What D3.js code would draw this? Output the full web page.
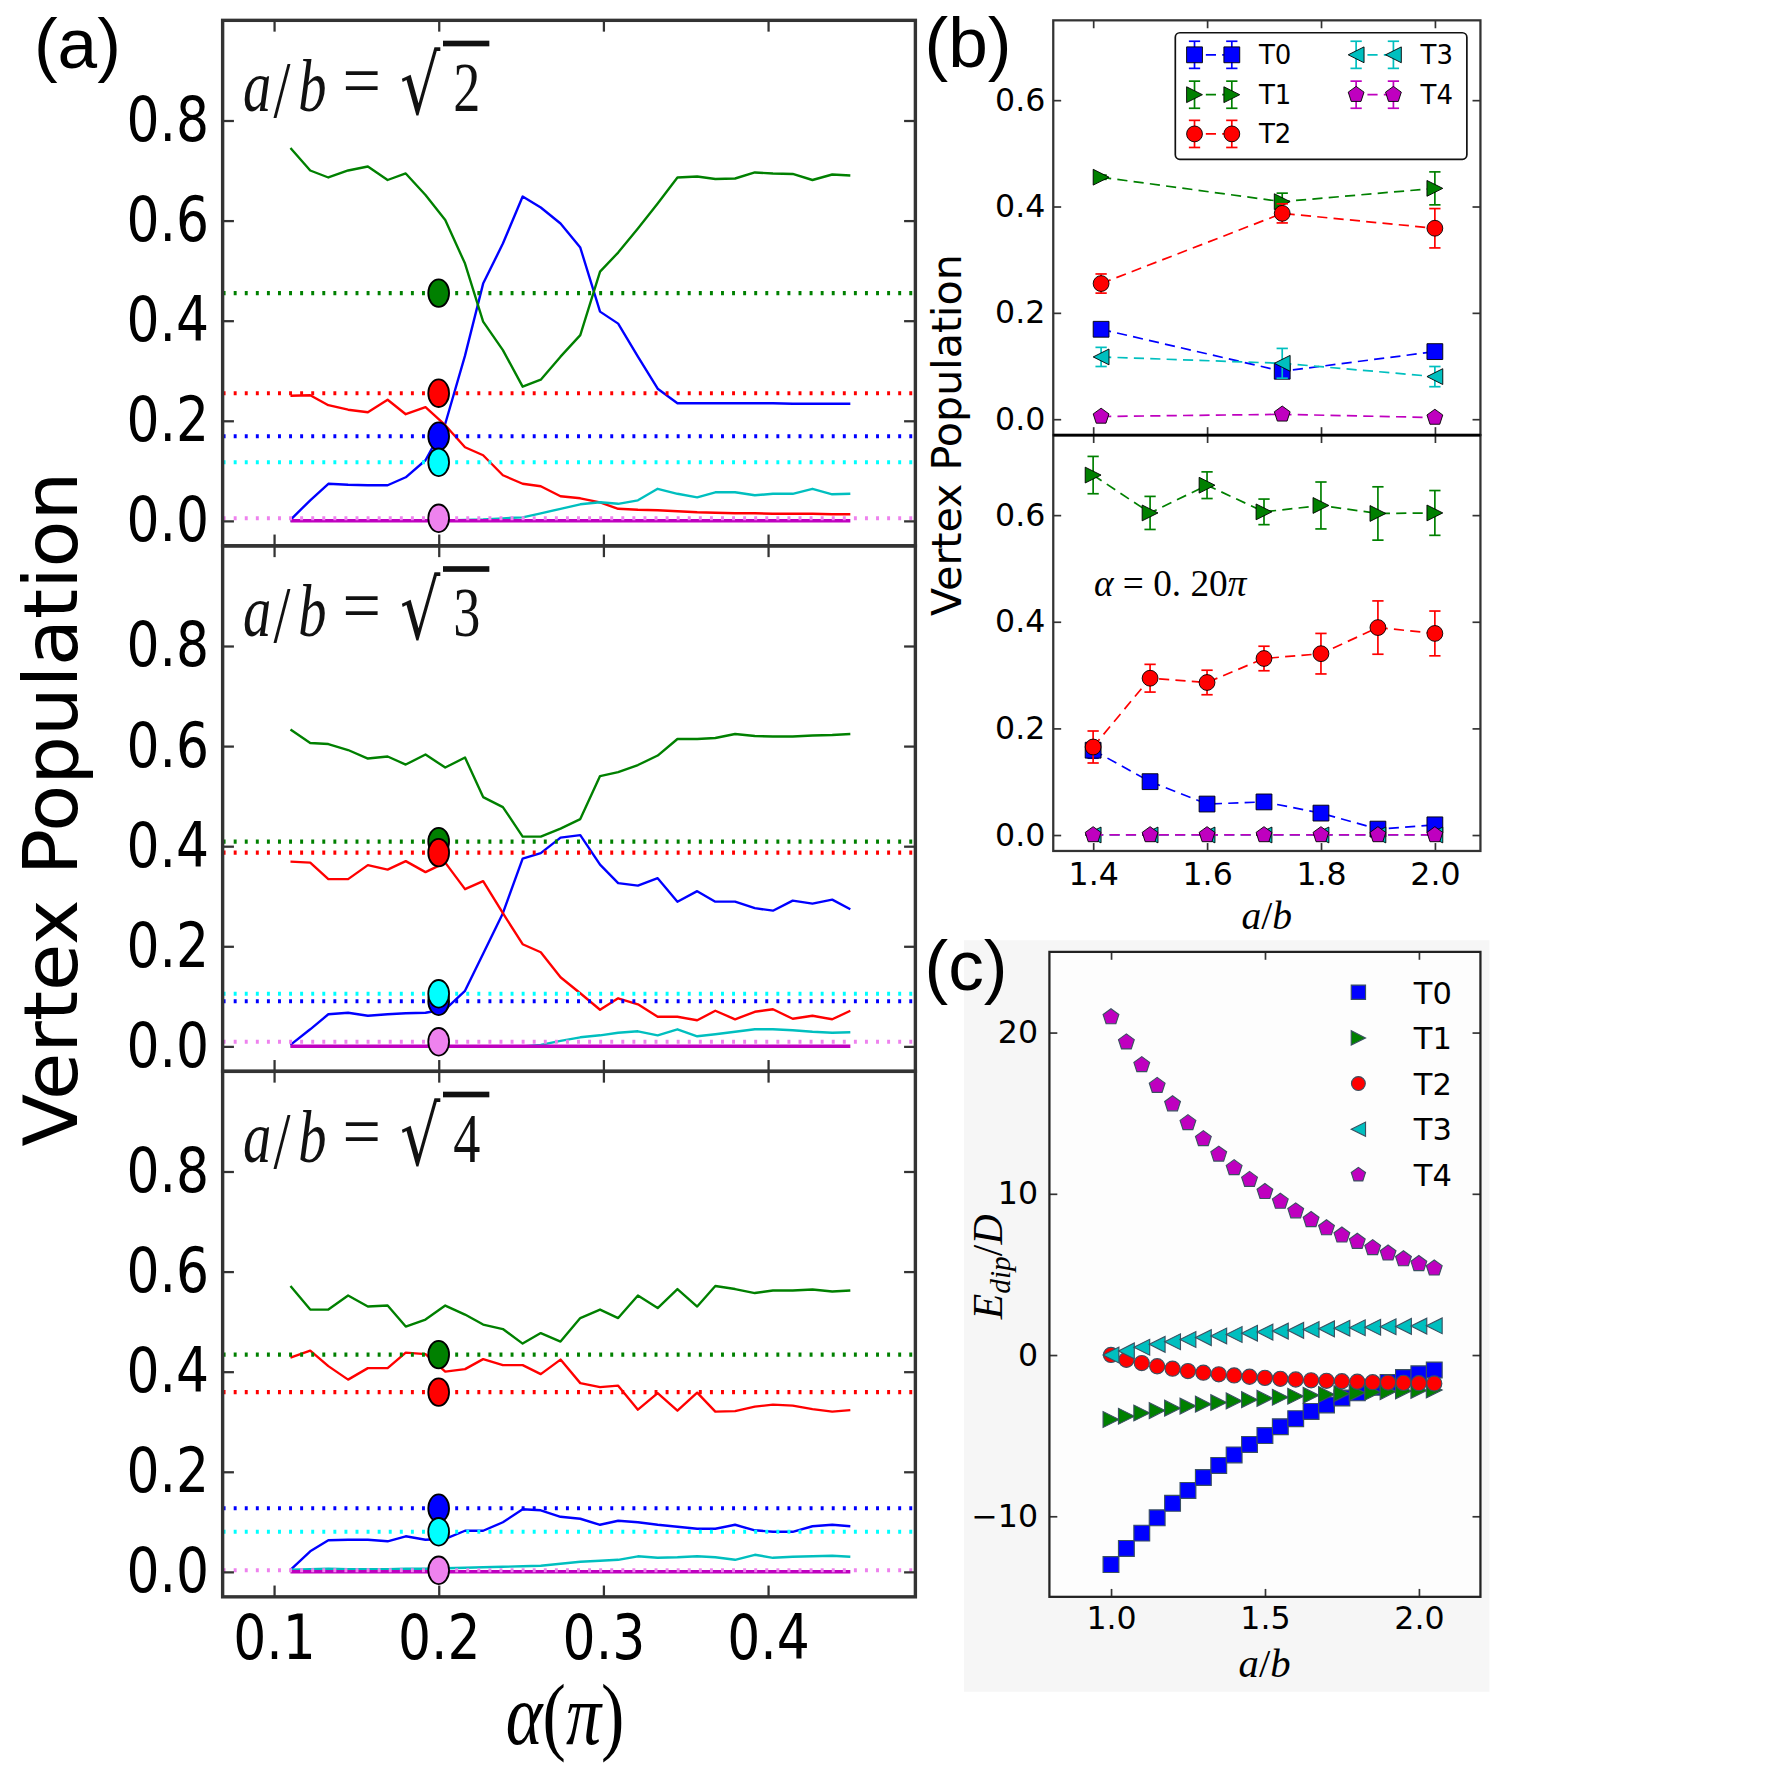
<!DOCTYPE html>
<html>
<head>
<meta charset="utf-8">
<script src="https://cdnjs.cloudflare.com/ajax/libs/d3/7.8.5/d3.min.js"></script>
<style>
  html, body { margin: 0; padding: 0; background: #fff; }
</style>
</head>
<body>
<div id="chart"></div>
<script>
// ---- panel (a): populations vs alpha (units of pi) ----
const alpha = [0.110, 0.122, 0.133, 0.145, 0.157, 0.169, 0.180, 0.192, 0.204, 0.216,
  0.227, 0.239, 0.251, 0.262, 0.274, 0.286, 0.298, 0.309, 0.321, 0.333,
  0.345, 0.357, 0.368, 0.380, 0.392, 0.403, 0.415, 0.427, 0.439, 0.450];

// a/b = sqrt(2)
const popT0Root2 = [0.002, 0.041, 0.074, 0.072, 0.071, 0.071, 0.087, 0.121, 0.194, 0.330, 0.474, 0.554, 0.648, 0.626, 0.594, 0.546, 0.418, 0.394, 0.328, 0.264, 0.235, 0.235, 0.235, 0.235, 0.235, 0.235, 0.234, 0.234, 0.234, 0.234];
const popT1Root2 = [0.745, 0.700, 0.686, 0.700, 0.708, 0.681, 0.694, 0.651, 0.601, 0.514, 0.398, 0.341, 0.268, 0.282, 0.328, 0.371, 0.498, 0.536, 0.584, 0.634, 0.686, 0.688, 0.683, 0.684, 0.696, 0.694, 0.693, 0.681, 0.692, 0.690];
const popT2Root2 = [0.250, 0.251, 0.231, 0.222, 0.217, 0.242, 0.213, 0.227, 0.191, 0.147, 0.131, 0.091, 0.074, 0.069, 0.049, 0.045, 0.037, 0.024, 0.022, 0.021, 0.019, 0.017, 0.016, 0.015, 0.015, 0.014, 0.014, 0.014, 0.013, 0.013];
const popT3Root2 = [0, 0, 0, 0, 0, 0, 0, 0, 0.001, 0.002, 0.003, 0.005, 0.007, 0.015, 0.024, 0.033, 0.037, 0.034, 0.041, 0.064, 0.054, 0.047, 0.057, 0.057, 0.051, 0.054, 0.054, 0.064, 0.053, 0.054];
const popT4Root2 = [0, 0, 0, 0, 0, 0, 0, 0, 0, 0, 0, 0, 0, 0, 0, 0, 0, 0, 0, 0, 0, 0, 0, 0, 0, 0, 0, 0, 0, 0];

// a/b = sqrt(3)
const popT0Root3 = [0.003, 0.034, 0.064, 0.067, 0.061, 0.064, 0.066, 0.067, 0.074, 0.111, 0.185, 0.266, 0.375, 0.386, 0.417, 0.422, 0.363, 0.326, 0.321, 0.336, 0.289, 0.310, 0.289, 0.289, 0.276, 0.271, 0.291, 0.285, 0.293, 0.274];
const popT1Root3 = [0.633, 0.606, 0.604, 0.592, 0.575, 0.579, 0.563, 0.583, 0.557, 0.577, 0.498, 0.478, 0.419, 0.419, 0.435, 0.454, 0.540, 0.548, 0.562, 0.581, 0.614, 0.614, 0.616, 0.624, 0.620, 0.619, 0.619, 0.621, 0.622, 0.624];
const popT2Root3 = [0.369, 0.367, 0.334, 0.334, 0.362, 0.353, 0.370, 0.348, 0.367, 0.314, 0.330, 0.266, 0.204, 0.188, 0.138, 0.106, 0.073, 0.096, 0.084, 0.059, 0.059, 0.052, 0.071, 0.054, 0.069, 0.074, 0.055, 0.061, 0.054, 0.071];
const popT3Root3 = [0, 0, 0, 0, 0, 0, 0, 0, 0, 0, 0, 0, 0, 0.003, 0.011, 0.018, 0.022, 0.027, 0.030, 0.022, 0.034, 0.020, 0.024, 0.029, 0.034, 0.034, 0.032, 0.029, 0.027, 0.028];
const popT4Root3 = [0, 0, 0, 0, 0, 0, 0, 0, 0, 0, 0, 0, 0, 0, 0, 0, 0, 0, 0, 0, 0, 0, 0, 0, 0, 0, 0, 0, 0, 0];

// a/b = sqrt(4)
const popT0Root4 = [0.004, 0.041, 0.063, 0.064, 0.064, 0.061, 0.071, 0.064, 0.066, 0.082, 0.082, 0.099, 0.125, 0.123, 0.110, 0.106, 0.094, 0.102, 0.099, 0.094, 0.090, 0.086, 0.086, 0.094, 0.083, 0.080, 0.080, 0.091, 0.094, 0.091];
const popT1Root4 = [0.571, 0.524, 0.524, 0.552, 0.530, 0.532, 0.490, 0.504, 0.532, 0.514, 0.494, 0.485, 0.456, 0.477, 0.460, 0.507, 0.524, 0.507, 0.552, 0.527, 0.565, 0.530, 0.571, 0.565, 0.557, 0.562, 0.562, 0.564, 0.560, 0.562];
const popT2Root4 = [0.428, 0.442, 0.411, 0.384, 0.407, 0.407, 0.438, 0.435, 0.400, 0.405, 0.425, 0.413, 0.413, 0.395, 0.424, 0.377, 0.369, 0.372, 0.324, 0.357, 0.322, 0.358, 0.320, 0.321, 0.330, 0.334, 0.332, 0.325, 0.320, 0.323];
const popT3Root4 = [0.004, 0.005, 0.006, 0.005, 0.005, 0.005, 0.006, 0.006, 0.007, 0.008, 0.009, 0.010, 0.011, 0.012, 0.016, 0.020, 0.022, 0.024, 0.031, 0.028, 0.029, 0.031, 0.029, 0.024, 0.034, 0.028, 0.030, 0.031, 0.032, 0.030];
const popT4Root4 = [0, 0, 0, 0, 0, 0, 0, 0, 0, 0, 0, 0, 0, 0, 0, 0, 0, 0, 0, 0, 0, 0, 0, 0, 0, 0, 0, 0, 0, 0];

const alphaMarked = 0.2;
const rootLabels = ['2', '3', '4'];

// ---- panel (b), top: measured at a/b = sqrt2, sqrt3, sqrt4 ----
const abTop = [1.414, 1.732, 2.0];
const t0Top = [0.169, 0.090, 0.127];
const t0TopErr = [0.008, 0.008, 0.010];
const t1Top = [0.455, 0.409, 0.434];
const t1TopErr = [0.004, 0.016, 0.031];
const t2Top = [0.255, 0.387, 0.359];
const t2TopErr = [0.018, 0.018, 0.037];
const t3Top = [0.117, 0.105, 0.080];
const t3TopErr = [0.018, 0.028, 0.019];
const t4Top = [0.005, 0.009, 0.003];
const t4TopErr = [0.003, 0.003, 0.003];

// ---- panel (b), bottom: alpha = 0.20 pi ----
const abBottom = [1.4, 1.5, 1.6, 1.7, 1.8, 1.9, 2.0];
const t0Bottom = [0.159, 0.100, 0.058, 0.062, 0.041, 0.011, 0.019];
const t0BottomErr = [0.015, 0.005, 0.005, 0.005, 0.005, 0.005, 0.005];
const t1Bottom = [0.675, 0.604, 0.656, 0.606, 0.618, 0.603, 0.604];
const t1BottomErr = [0.035, 0.031, 0.025, 0.024, 0.044, 0.050, 0.042];
const t2Bottom = [0.165, 0.294, 0.286, 0.331, 0.340, 0.389, 0.378];
const t2BottomErr = [0.030, 0.026, 0.023, 0.023, 0.038, 0.050, 0.042];
const t3Bottom = [0, 0, 0, 0, 0, 0, 0];
const t3BottomErr = [0.002, 0.002, 0.002, 0.002, 0.002, 0.002, 0.002];
const t4Bottom = [0, 0, 0, 0, 0, 0, 0];
const t4BottomErr = [0.002, 0.002, 0.002, 0.002, 0.002, 0.002, 0.002];

// ---- panel (c): dipolar energy ----
const abEnergy = [1.00, 1.05, 1.10, 1.15, 1.20, 1.25, 1.30, 1.35, 1.40, 1.45, 1.50,
  1.55, 1.60, 1.65, 1.70, 1.75, 1.80, 1.85, 1.90, 1.95, 2.00, 2.05];
const eT0 = [-13.0, -12.0, -11.05, -10.1, -9.2, -8.4, -7.6, -6.85, -6.2, -5.55, -5.0, -4.45, -3.95, -3.5, -3.1, -2.67, -2.35, -2.0, -1.7, -1.4, -1.17, -0.93];
const eT1 = [-4.00, -3.80, -3.60, -3.45, -3.30, -3.17, -3.05, -2.95, -2.85, -2.77, -2.69, -2.62, -2.56, -2.50, -2.45, -2.40, -2.35, -2.31, -2.27, -2.23, -2.20, -2.17];
const eT2 = [0.00, -0.30, -0.50, -0.70, -0.85, -1.00, -1.10, -1.20, -1.27, -1.35, -1.42, -1.48, -1.52, -1.57, -1.60, -1.63, -1.66, -1.69, -1.71, -1.73, -1.75, -1.77];
const eT3 = [0.00, 0.25, 0.48, 0.66, 0.82, 0.96, 1.08, 1.18, 1.27, 1.35, 1.42, 1.48, 1.53, 1.58, 1.62, 1.66, 1.69, 1.72, 1.75, 1.77, 1.79, 1.81];
const eT4 = [20.96, 19.40, 17.99, 16.70, 15.56, 14.39, 13.40, 12.44, 11.60, 10.87, 10.12, 9.52, 8.92, 8.38, 7.87, 7.42, 7.03, 6.64, 6.31, 5.95, 5.65, 5.38];

const typeNames = ['T0', 'T1', 'T2', 'T3', 'T4'];
const lineColors = ['#0000ff', '#008000', '#ff0000', '#00bfbf', '#bf00bf'];
const refColors = ['#0000ff', '#008000', '#ff0000', '#00ffff', '#ee82ee'];

/*
 * everything is laid out on a 1568 grid and scaled up to 1772
 */
const S = 1772 / 1568;
const svg = d3.select('#chart').append('svg')
  .attr('width', 1772)
  .attr('height', 1772);
const root = svg.append('g').attr('transform', `scale(${S})`);

// marker shapes like matplotlib's
const triRight = {
  draw(ctx, size) {
    const r = Math.sqrt(size) / 2;
    ctx.moveTo(r, 0); ctx.lineTo(-r, -r); ctx.lineTo(-r, r); ctx.closePath();
  },
};
const triLeft = {
  draw(ctx, size) {
    const r = Math.sqrt(size) / 2;
    ctx.moveTo(-r, 0); ctx.lineTo(r, -r); ctx.lineTo(r, r); ctx.closePath();
  },
};
const pentagon = {
  draw(ctx, size) {
    const r = Math.sqrt(size) / 2 * 1.05;
    for (let i = 0; i < 5; i += 1) {
      const a = -Math.PI / 2 + i * 2 * Math.PI / 5;
      if (i) ctx.lineTo(r * Math.cos(a), r * Math.sin(a));
      else ctx.moveTo(r * Math.cos(a), r * Math.sin(a));
    }
    ctx.closePath();
  },
};
const circleD = { draw(ctx, size) { const r = Math.sqrt(size) / 2; ctx.moveTo(r, 0); ctx.arc(0, 0, r, 0, 2 * Math.PI); } };
const markerTypes = [d3.symbolSquare, triRight, circleD, triLeft, pentagon];

function frameAxes(g, x, y, o) {
  const [x0, x1] = x.range();
  const [y0, y1] = y.range();
  const bottom = g.append('g').attr('transform', `translate(0,${y0})`)
    .call(d3.axisBottom(x).tickValues(o.xTicks).tickSize(-o.len).tickPadding(o.xPad)
      .tickFormat(o.xFormat || (() => '')));
  const top = g.append('g').attr('transform', `translate(0,${y1})`)
    .call(d3.axisTop(x).tickValues(o.xTicks).tickSize(-o.len).tickFormat(() => ''));
  const left = g.append('g').attr('transform', `translate(${x0},0)`)
    .call(d3.axisLeft(y).tickValues(o.yTicks).tickSize(-o.len).tickPadding(o.yPad)
      .tickFormat(o.yFormat || (() => '')));
  const right = g.append('g').attr('transform', `translate(${x1},0)`)
    .call(d3.axisRight(y).tickValues(o.yTicks).tickSize(-o.len).tickFormat(() => ''));
  [bottom, top, left, right].forEach((a) => {
    a.select('.domain').remove();
    a.attr('font-family', o.font).attr('font-size', o.fontSize);
    a.selectAll('line').attr('stroke', o.tickColor).attr('stroke-width', o.tickWidth);
    a.selectAll('text').attr('fill', '#000');
    if (o.stretch) a.selectAll('text').attr('transform', `scale(1,${o.stretch})`);
  });
  g.append('rect')
    .attr('x', x0).attr('y', y1)
    .attr('width', x1 - x0).attr('height', y0 - y1)
    .attr('fill', 'none')
    .attr('stroke', o.frameColor)
    .attr('stroke-width', o.frameWidth);
}

// ================= panel (a) =================
const aLeft = 197;
const aRight = 810;
const aTops = [18, 483, 948];
const aH = 465;
const xA = d3.scaleLinear().domain([0.0688, 0.4895]).range([aLeft, aRight]);
const aSeries = [
  [popT0Root2, popT1Root2, popT2Root2, popT3Root2, popT4Root2],
  [popT0Root3, popT1Root3, popT2Root3, popT3Root3, popT4Root3],
  [popT0Root4, popT1Root4, popT2Root4, popT3Root4, popT4Root4],
];
const refTop = [t0Top, t1Top, t2Top, t3Top, t4Top];

aTops.forEach((top, i) => {
  const yA = d3.scaleLinear().domain([-0.05, 1.0]).range([top + aH, top]);
  const g = root.append('g');

  const line = d3.line().x((d, j) => xA(alpha[j])).y(d => yA(d));
  aSeries[i].forEach((vals, k) => {
    g.append('path')
      .datum(vals)
      .attr('d', line)
      .attr('fill', 'none')
      .attr('stroke', lineColors[k])
      .attr('stroke-width', k === 4 ? 3.2 : 2.1)
      .attr('stroke-linejoin', 'round');
  });

  // reference values from (b) as dotted lines
  refTop.forEach((arr, k) => {
    g.append('line')
      .attr('x1', aLeft).attr('x2', aRight)
      .attr('y1', yA(arr[i])).attr('y2', yA(arr[i]))
      .attr('stroke', refColors[k])
      .attr('stroke-width', 3.6)
      .attr('stroke-dasharray', '2.6 7.2');
  });

  [1, 2, 0, 3, 4].forEach((k) => {
    g.append('ellipse')
      .attr('cx', xA(alphaMarked))
      .attr('cy', yA(refTop[k][i]))
      .attr('rx', 9.2).attr('ry', 12.2)
      .attr('fill', refColors[k])
      .attr('stroke', '#000')
      .attr('stroke-width', 1.6);
  });

  frameAxes(g, xA, yA, {
    xTicks: [0.1, 0.2, 0.3, 0.4],
    yTicks: [0, 0.2, 0.4, 0.6, 0.8],
    len: 10,
    xPad: 13,
    yPad: 12,
    xFormat: i === 2 ? d3.format('.1f') : null,
    yFormat: d3.format('.1f'),
    font: 'DejaVu Sans',
    fontSize: 46,
    stretch: 1.2,
    tickColor: '#333',
    tickWidth: 2,
    frameColor: '#333',
    frameWidth: 3,
  });

  // a/b = sqrt(n) label
  const lab = g.append('g')
    .attr('transform', `translate(215,${top + 80}) scale(1,1.3)`)
    .attr('font-family', 'Liberation Serif')
    .attr('fill', '#111');
  const ab = lab.append('text').attr('y', 0).attr('font-size', 50);
  ab.append('tspan').attr('x', 0).attr('font-style', 'italic').text('a');
  ab.append('tspan').attr('x', 27).attr('y', 4).attr('font-size', 54).text('/');
  ab.append('tspan').attr('x', 49).attr('y', 0).attr('font-style', 'italic').text('b');
  lab.append('text').attr('x', 88).attr('y', -4).attr('font-size', 50)
    .attr('textLength', 34).attr('lengthAdjust', 'spacingAndGlyphs').text('=');
  lab.append('text').attr('x', 139).attr('y', 2).attr('font-size', 56)
    .attr('font-family', 'DejaVu Serif').text('√');
  lab.append('text').attr('x', 186).attr('y', 0).attr('font-size', 48).text(rootLabels[i]);
  g.append('rect')
    .attr('x', 392).attr('y', top + 18)
    .attr('width', 41).attr('height', 5)
    .attr('fill', '#111');
});

// (a) axis titles
root.append('g')
  .attr('transform', 'translate(500,1543) scale(1,1.25)')
  .append('text')
  .attr('text-anchor', 'middle')
  .attr('font-family', 'Liberation Serif')
  .attr('font-size', 62)
  .call((t) => {
    t.append('tspan').attr('font-style', 'italic').text('α');
    t.append('tspan').text('(');
    t.append('tspan').attr('font-style', 'italic').text('π');
    t.append('tspan').text(')');
  });

root.append('text')
  .attr('transform', 'translate(68,716) rotate(-90)')
  .attr('text-anchor', 'middle')
  .attr('font-family', 'DejaVu Sans')
  .attr('font-size', 66)
  .attr('textLength', 597)
  .attr('lengthAdjust', 'spacingAndGlyphs')
  .text('Vertex Population');

// ================= panel (b) =================
const bLeft = 932;
const bRight = 1310;
const xB = d3.scaleLinear().domain([1.33, 2.08]).range([bLeft, bRight]);
const yBTop = d3.scaleLinear().domain([-0.03, 0.75]).range([385, 18]);
const yBBot = d3.scaleLinear().domain([-0.03, 0.75]).range([753, 385]);

const bTopSeries = [
  [t0Top, t0TopErr], [t1Top, t1TopErr], [t2Top, t2TopErr], [t3Top, t3TopErr], [t4Top, t4TopErr],
];
const bBotSeries = [
  [t0Bottom, t0BottomErr], [t1Bottom, t1BottomErr], [t2Bottom, t2BottomErr],
  [t3Bottom, t3BottomErr], [t4Bottom, t4BottomErr],
];
const markerSize = 196;

function errorPlot(g, xs, series, y) {
  series.forEach(([vals, errs], k) => {
    const pts = xs.map((xv, j) => ({ x: xv, v: vals[j], e: errs[j] }));
    g.append('path')
      .datum(pts)
      .attr('d', d3.line().x(d => xB(d.x)).y(d => y(d.v)))
      .attr('fill', 'none')
      .attr('stroke', lineColors[k])
      .attr('stroke-width', 1.5)
      .attr('stroke-dasharray', '9 5.5');
    const eb = g.append('g').attr('stroke', lineColors[k]).attr('stroke-width', 1.5);
    pts.forEach((d) => {
      const cx = xB(d.x);
      eb.append('line').attr('x1', cx).attr('x2', cx)
        .attr('y1', y(d.v - d.e)).attr('y2', y(d.v + d.e));
      [d.v - d.e, d.v + d.e].forEach((c) => {
        eb.append('line').attr('x1', cx - 5).attr('x2', cx + 5)
          .attr('y1', y(c)).attr('y2', y(c));
      });
    });
    g.selectAll(null)
      .data(pts)
      .enter().append('path')
      .attr('transform', d => `translate(${xB(d.x)},${y(d.v)})`)
      .attr('d', d3.symbol().type(markerTypes[k]).size(markerSize))
      .attr('fill', lineColors[k])
      .attr('stroke', '#000')
      .attr('stroke-width', 0.8);
  });
}

const gbTop = root.append('g');
errorPlot(gbTop, abTop, bTopSeries, yBTop);
frameAxes(gbTop, xB, yBTop, {
  xTicks: [1.4, 1.6, 1.8, 2.0],
  yTicks: [0, 0.2, 0.4, 0.6],
  len: 7,
  xPad: 10,
  yPad: 7,
  xFormat: null,
  yFormat: d3.format('.1f'),
  font: 'DejaVu Sans',
  fontSize: 28,
  tickColor: '#333',
  tickWidth: 1.5,
  frameColor: '#333',
  frameWidth: 2,
});

// legend (two columns)
const legend = gbTop.append('g');
legend.append('rect')
  .attr('x', 1040).attr('y', 29)
  .attr('width', 258).attr('height', 112)
  .attr('rx', 4)
  .attr('fill', '#fff')
  .attr('stroke', '#111')
  .attr('stroke-width', 1.5);
const legendPos = [
  [1057, 48.5], [1057, 83.8], [1057, 118.5], [1200, 48.5], [1200, 83.8],
];
typeNames.forEach((name, k) => {
  const [lx, ly] = legendPos[k];
  const item = legend.append('g');
  item.append('line')
    .attr('x1', lx).attr('x2', lx + 33)
    .attr('y1', ly).attr('y2', ly)
    .attr('stroke', lineColors[k]).attr('stroke-width', 1.5)
    .attr('stroke-dasharray', '9 5.5').attr('stroke-dashoffset', -10);
  [lx, lx + 33].forEach((mx) => {
    const eb = item.append('g').attr('stroke', lineColors[k]).attr('stroke-width', 1.5);
    eb.append('line').attr('x1', mx).attr('x2', mx).attr('y1', ly - 12).attr('y2', ly + 12);
    eb.append('line').attr('x1', mx - 5).attr('x2', mx + 5).attr('y1', ly - 12).attr('y2', ly - 12);
    eb.append('line').attr('x1', mx - 5).attr('x2', mx + 5).attr('y1', ly + 12).attr('y2', ly + 12);
    item.append('path')
      .attr('transform', `translate(${mx},${ly})`)
      .attr('d', d3.symbol().type(markerTypes[k]).size(markerSize))
      .attr('fill', lineColors[k])
      .attr('stroke', '#000')
      .attr('stroke-width', 0.8);
  });
  item.append('text')
    .attr('x', lx + 57).attr('y', ly + 8)
    .attr('font-family', 'DejaVu Sans')
    .attr('font-size', 23)
    .text(name);
});

const gbBot = root.append('g');
errorPlot(gbBot, abBottom, bBotSeries, yBBot);
frameAxes(gbBot, xB, yBBot, {
  xTicks: [1.4, 1.6, 1.8, 2.0],
  yTicks: [0, 0.2, 0.4, 0.6],
  len: 7,
  xPad: 10,
  yPad: 7,
  xFormat: d3.format('.1f'),
  yFormat: d3.format('.1f'),
  font: 'DejaVu Sans',
  fontSize: 28,
  tickColor: '#333',
  tickWidth: 1.5,
  frameColor: '#333',
  frameWidth: 2,
});
gbBot.append('line')
  .attr('x1', bLeft).attr('x2', bRight).attr('y1', 385).attr('y2', 385)
  .attr('stroke', '#000').attr('stroke-width', 2.5);

gbBot.append('text')
  .attr('x', 968).attr('y', 527)
  .attr('font-family', 'Liberation Serif')
  .attr('font-size', 33)
  .call((t) => {
    t.append('tspan').attr('font-style', 'italic').text('α');
    t.append('tspan').text(' = 0. 20');
    t.append('tspan').attr('font-style', 'italic').text('π');
  });

function abLabel(sel, x, y, size) {
  sel.append('text')
    .attr('x', x).attr('y', y)
    .attr('text-anchor', 'middle')
    .attr('font-family', 'Liberation Serif')
    .attr('font-size', size)
    .call((t) => {
      t.append('tspan').attr('font-style', 'italic').text('a');
      t.append('tspan').text('/');
      t.append('tspan').attr('font-style', 'italic').text('b');
    });
}
abLabel(root, 1121, 822, 35);

root.append('text')
  .attr('transform', 'translate(850,385) rotate(-90)')
  .attr('text-anchor', 'middle')
  .attr('font-family', 'DejaVu Sans')
  .attr('font-size', 36)
  .attr('textLength', 320)
  .attr('lengthAdjust', 'spacingAndGlyphs')
  .text('Vertex Population');

// ================= panel (c) =================
root.append('rect')
  .attr('x', 853).attr('y', 832)
  .attr('width', 465).attr('height', 665)
  .attr('fill', '#f6f6f6');
const xC = d3.scaleLinear().domain([0.8, 2.2]).range([928.6, 1310]);
const yC = d3.scaleLinear().domain([-15, 25]).range([1413, 842.3]);
const gc = root.append('g');
gc.append('rect')
  .attr('x', 928.6).attr('y', 842.3)
  .attr('width', 1310 - 928.6).attr('height', 1413 - 842.3)
  .attr('fill', '#fdfdfd');
const energies = [eT0, eT1, eT2, eT3, eT4];
energies.forEach((vals, k) => {
  gc.selectAll(null)
    .data(vals)
    .enter().append('path')
    .attr('transform', (d, j) => `translate(${xC(abEnergy[j])},${yC(d)})`)
    .attr('d', d3.symbol().type(markerTypes[k]).size(k === 2 ? 180 : 196))
    .attr('fill', lineColors[k])
    .attr('stroke', '#3a5060')
    .attr('stroke-width', 1);
});
frameAxes(gc, xC, yC, {
  xTicks: [1.0, 1.5, 2.0],
  yTicks: [-10, 0, 10, 20],
  len: 7,
  xPad: 9,
  yPad: 10,
  xFormat: d3.format('.1f'),
  yFormat: d3.format('d'),
  font: 'DejaVu Sans',
  fontSize: 28,
  tickColor: '#333',
  tickWidth: 1.5,
  frameColor: '#222',
  frameWidth: 2,
});
const legendC = gc.append('g');
typeNames.forEach((name, k) => {
  const ly = 878 + k * 40.4;
  legendC.append('path')
    .attr('transform', `translate(1202,${ly})`)
    .attr('d', d3.symbol().type(markerTypes[k]).size(k === 2 ? 150 : 160))
    .attr('fill', lineColors[k])
    .attr('stroke', '#3a5060')
    .attr('stroke-width', 1);
  legendC.append('text')
    .attr('x', 1251).attr('y', ly + 10)
    .attr('font-family', 'DejaVu Sans')
    .attr('font-size', 27)
    .text(name);
});
abLabel(root, 1119, 1484, 36);
root.append('text')
  .attr('transform', 'translate(887,1121) rotate(-90)')
  .attr('text-anchor', 'middle')
  .attr('font-family', 'Liberation Serif')
  .attr('font-size', 37)
  .call((t) => {
    t.append('tspan').attr('font-style', 'italic').text('E');
    t.append('tspan').attr('font-style', 'italic').attr('font-size', 26).attr('dy', 7).text('dip');
    t.append('tspan').attr('dy', -7).text('/');
    t.append('tspan').attr('font-style', 'italic').text('D');
  });

// panel letters
[['(a)', 30, 60], ['(b)', 818, 59], ['(c)', 818, 876]].forEach(([t, x, y]) => {
  root.append('text')
    .attr('x', x).attr('y', y)
    .attr('font-family', 'Liberation Sans')
    .attr('font-size', 63)
    .text(t);
});
</script>
</body>
</html>
